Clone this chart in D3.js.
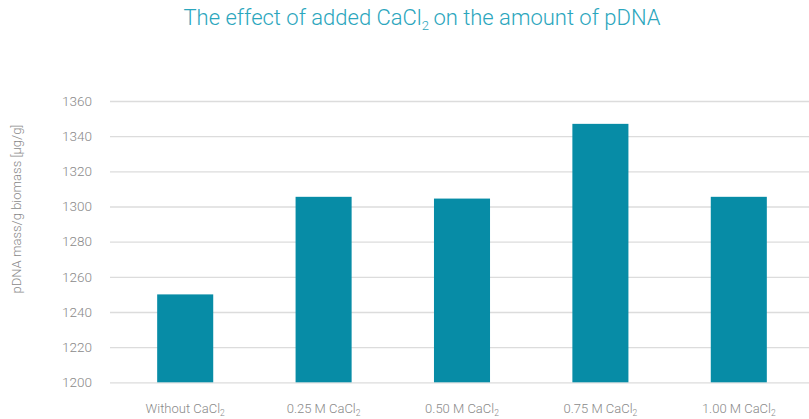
<!DOCTYPE html>
<html>
<head>
<meta charset="utf-8">
<script src="https://cdn.jsdelivr.net/npm/d3@7"></script>
<style>
  html, body { margin: 0; padding: 0; background: #fff; }
  svg { display: block; font-family: Roboto, "Open Sans", sans-serif; }
</style>
</head>
<body>
<svg id="chart" width="809" height="419"></svg>
<script>
// CaCl2 concentration groups (label stem; a subscript "2" is appended on draw)
const categories = ["Without CaCl", "0.25 M CaCl", "0.50 M CaCl", "0.75 M CaCl", "1.00 M CaCl"];
// pDNA mass per gram of biomass, µg/g
const pdnaValues = [1250, 1305.5, 1304.5, 1347, 1305.5];
const yTicks = [1200, 1220, 1240, 1260, 1280, 1300, 1320, 1340, 1360];

const svg = d3.select("#chart");
const barColor = "#078ca6";

const x = d3.scaleBand()
  .domain(categories)
  .range([116, 808])
  .paddingInner(0.595)
  .paddingOuter(0.2975);

const y = d3.scaleLinear()
  .domain([1200, 1360])
  .range([382.3, 101]);

// Title with subscript
const title = svg.append("text")
  .attr("x", 422)
  .attr("y", 25)
  .attr("text-anchor", "middle")
  .attr("fill", "#2ba6bd")
  .attr("font-size", 22)
  .attr("font-weight", 300);
title.append("tspan").text("The effect of added CaCl");
title.append("tspan").attr("font-size", 13).attr("dy", 5).text("2");
title.append("tspan").attr("dy", -5).attr("dx", -1).text(" on the amount of pDNA");

// Y axis with full-width gridlines
const yAxis = svg.append("g")
  .attr("transform", "translate(110,0)")
  .call(d3.axisLeft(y).tickValues(yTicks).tickSize(-699).tickPadding(18).tickFormat(d3.format("d")));
yAxis.select(".domain").remove();
yAxis.selectAll(".tick line").attr("stroke", "#dcdcdc").attr("stroke-width", 1.3);
yAxis.selectAll(".tick text")
  .attr("fill", "#8a8a8a")
  .attr("font-size", 13.5)
  .attr("font-family", "Roboto, sans-serif")
  .attr("font-weight", 300);

// Y axis title
svg.append("text")
  .attr("transform", "translate(21,209) rotate(-90)")
  .attr("text-anchor", "middle")
  .attr("fill", "#8a8a8a")
  .attr("font-size", 13)
  .attr("font-weight", 300)
  .text("pDNA mass/g biomass [µg/g]");

// Bars
svg.append("g").selectAll("rect")
  .data(pdnaValues)
  .join("rect")
  .attr("x", (d, i) => x(categories[i]))
  .attr("width", x.bandwidth())
  .attr("y", d => y(d))
  .attr("height", d => y(1200) - y(d))
  .attr("fill", barColor);

// X category labels with subscript 2
const xLabels = svg.append("g").selectAll("text")
  .data(categories)
  .join("text")
  .attr("x", d => x(d) + x.bandwidth() / 2)
  .attr("y", 413)
  .attr("text-anchor", "middle")
  .attr("fill", "#8a8a8a")
  .attr("font-size", 13)
  .attr("font-weight", 300);
xLabels.append("tspan").text(d => d);
xLabels.append("tspan").attr("font-size", 8.5).attr("dy", 3).text("2");
</script>
</body>
</html>
